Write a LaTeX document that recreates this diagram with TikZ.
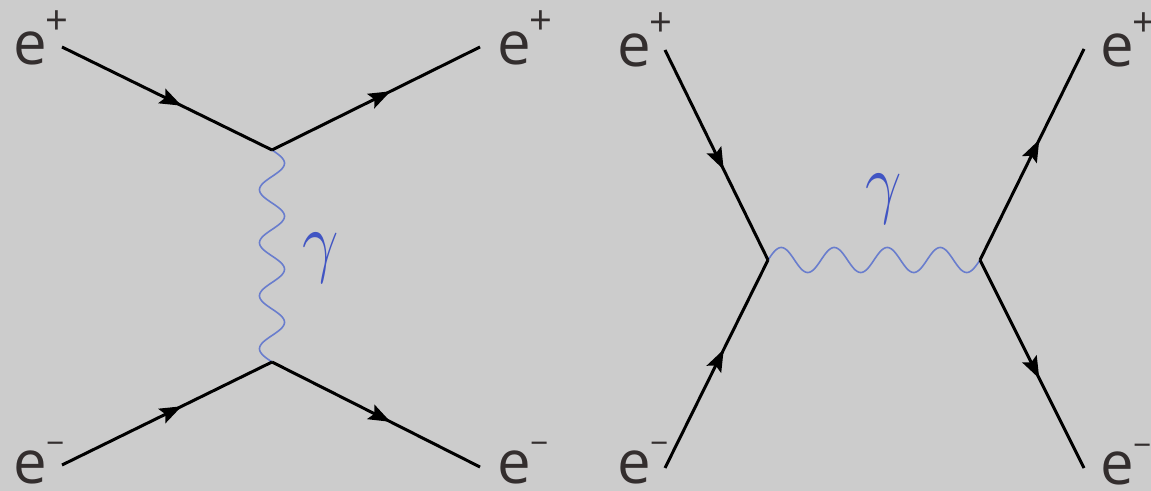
\documentclass[tikz,border=0pt]{standalone}
\usepackage{fontspec}
\setmainfont{Open Sans}
\usetikzlibrary{decorations.markings,arrows.meta}
\definecolor{bg}{RGB}{204,204,204}
\definecolor{txt}{RGB}{51,46,46}
\definecolor{wavec}{RGB}{105,125,205}
\definecolor{gam}{RGB}{65,85,195}
\newcommand\chgplus{\kern-1pt\raisebox{15pt}{\fontsize{20}{20}\selectfont +}}
\newcommand\chgminus{\kern-0.5pt\raisebox{14pt}{\fontsize{16}{16}\selectfont −}}
\newcommand\gammasym{\scalebox{1.3}[1.6]{$\gamma$}}
\begin{document}
\begin{tikzpicture}[x=0.5pt,y=-0.5pt,
  lbl/.style={anchor=base west,inner sep=0pt,text=txt,text depth=0pt,font=\fontsize{30}{30}\selectfont},
  fermion/.style={line width=1.5pt, black, postaction={decorate},
    decoration={markings, mark=at position 0.57 with {\arrow{Stealth[length=11pt,width=8pt,inset=2pt]}}}},
  photon/.style={wavec, line width=0.8pt},
  gammalbl/.style={text=gam, inner sep=0pt, font=\fontsize{24.88}{25}\selectfont}]
\fill[bg] (0,0) rectangle (1151,491);
\useasboundingbox (0,0) rectangle (1151,491);
% left diagram
\coordinate (a1) at (62,47);
\coordinate (v1) at (272,150);
\coordinate (a2) at (480,47);
\coordinate (a3) at (62,465);
\coordinate (v2) at (272,362);
\coordinate (a4) at (480,467);
\draw[photon] (v1) -- plot[domain=0:212, samples=240, smooth] ({272+12.5*sin(6.7925*\x)}, {150+\x}) -- (v2);
\draw[fermion] (a1) -- (v1);
\draw[fermion] (v1) -- (a2);
\draw[fermion] (a3) -- (v2);
\draw[fermion] (v2) -- (a4);
\node[lbl] (l1) at (13,65) {e\chgplus};
\node[lbl] (l2) at (497,65) {e\chgplus};
\node[lbl] (l3) at (13,483) {e\chgminus};
\node[lbl] (l4) at (497,483) {e\chgminus};
\node[gammalbl] (g1) at (321,258) {\gammasym};
% right diagram
\coordinate (b1) at (665,50);
\coordinate (w1) at (768,260);
\coordinate (b3) at (665,468);
\coordinate (w2) at (980,260);
\coordinate (b2) at (1084,49);
\coordinate (b4) at (1084,468);
\draw[photon] (w1) -- plot[domain=0:212, samples=240, smooth] ({768+\x}, {260-12.5*sin(6.7925*\x)}) -- (w2);
\draw[fermion] (b1) -- (w1);
\draw[fermion] (b3) -- (w1);
\draw[fermion] (w2) -- (b2);
\draw[fermion] (w2) -- (b4);
\node[lbl] (r1) at (617,67) {e\chgplus};
\node[lbl] (r3) at (617,483) {e\chgminus};
\node[lbl] (r2) at (1100,67) {e\chgplus};
\node[lbl] (r4) at (1100,485) {e\chgminus};
\node[gammalbl] (g2) at (884,199) {\gammasym};
\end{tikzpicture}
\end{document}
